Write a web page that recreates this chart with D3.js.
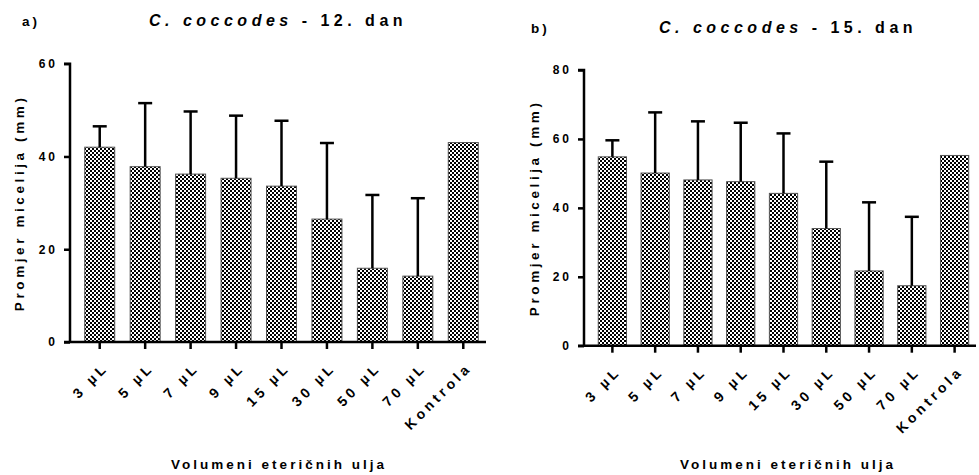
<!DOCTYPE html>
<html>
<head>
<meta charset="utf-8">
<script src="https://cdn.jsdelivr.net/npm/d3@7"></script>
<style>
  body { margin: 0; background: #fff; }
  svg { display: block; font-family: "Liberation Sans", Arial, sans-serif; font-weight: bold; }
</style>
</head>
<body>
<div id="chart"></div>
<script>
// categories and values
const categories = ["3 µL", "5 µL", "7 µL", "9 µL", "15 µL", "30 µL", "50 µL", "70 µL", "Kontrola"];

const day12Mean = [42.0, 37.8, 36.2, 35.3, 33.6, 26.5, 15.9, 14.2, 43.0];
const day12Err  = [4.5, 13.7, 13.5, 13.5, 14.1, 16.4, 15.8, 16.8, 0];
const day12Ticks = [0, 20, 40, 60];

const day15Mean = [54.8, 50.1, 48.1, 47.6, 44.2, 34.0, 21.7, 17.4, 55.2];
const day15Err  = [4.8, 17.6, 17.0, 17.1, 17.4, 19.4, 19.9, 20.0, 0];
const day15Ticks = [0, 20, 40, 60, 80];

const width = 979, height = 475;

const svg = d3.select("#chart").append("svg")
    .attr("width", width)
    .attr("height", height);

// checkerboard fill
const pat = svg.append("defs").append("pattern")
    .attr("id", "checker")
    .attr("patternUnits", "userSpaceOnUse")
    .attr("width", 4).attr("height", 4);
pat.append("rect").attr("width", 4).attr("height", 4).attr("fill", "#fff");
pat.append("rect").attr("width", 2).attr("height", 2).attr("fill", "#000");
pat.append("rect").attr("x", 2).attr("y", 2).attr("width", 2).attr("height", 2).attr("fill", "#000");

function drawPanel(opt) {
    const g = svg.append("g");

    const x = d3.scaleBand()
        .domain(categories)
        .range([opt.x0 + 7, opt.x1])
        .paddingInner(0.34)
        .paddingOuter(0.17);

    const y = d3.scaleLinear()
        .domain([0, opt.max])
        .range([opt.y0, opt.y1]);

    // bars
    g.selectAll("rect.bar")
        .data(opt.mean)
        .join("rect")
        .attr("class", "bar")
        .attr("x", (d, i) => x(categories[i]))
        .attr("width", x.bandwidth())
        .attr("y", d => y(d))
        .attr("height", d => y(0) - y(d))
        .attr("fill", "url(#checker)")
        .attr("stroke", "#555")
        .attr("stroke-width", 1);

    // error bars (upper only)
    const errs = opt.mean.map((m, i) => ({ i, m, e: opt.err[i] })).filter(d => d.e > 0);
    g.selectAll("line.err")
        .data(errs)
        .join("line")
        .attr("x1", d => x(categories[d.i]) + x.bandwidth() / 2)
        .attr("x2", d => x(categories[d.i]) + x.bandwidth() / 2)
        .attr("y1", d => y(d.m))
        .attr("y2", d => y(d.m + d.e))
        .attr("stroke", "#000")
        .attr("stroke-width", 2.5);
    g.selectAll("line.cap")
        .data(errs)
        .join("line")
        .attr("x1", d => x(categories[d.i]) + x.bandwidth() / 2 - 7)
        .attr("x2", d => x(categories[d.i]) + x.bandwidth() / 2 + 7)
        .attr("y1", d => y(d.m + d.e))
        .attr("y2", d => y(d.m + d.e))
        .attr("stroke", "#000")
        .attr("stroke-width", 2.5);

    // y axis
    const yAxis = g.append("g")
        .attr("transform", `translate(${opt.x0},0)`)
        .call(d3.axisLeft(y).tickValues(opt.ticks).tickSize(6).tickPadding(6));
    yAxis.select(".domain").attr("stroke-width", 2.5).attr("d", `M-6,${y(opt.max)}H0V${y(0)}`);
    yAxis.selectAll(".tick line").attr("stroke-width", 2.5);
    yAxis.selectAll("text")
        .style("font-size", "12px")
        .style("font-weight", "bold")
        .style("letter-spacing", "3px")
        .attr("fill", "#000");

    // x axis
    const xAxis = g.append("g")
        .attr("transform", `translate(0,${opt.y0})`)
        .call(d3.axisBottom(x).tickSize(7).tickPadding(6));
    xAxis.select(".domain").attr("stroke-width", 2.5).attr("d", `M${opt.x0 - 6},0H${opt.x1}`);
    xAxis.selectAll(".tick line").attr("stroke-width", 2.5);
    xAxis.selectAll("text")
        .style("font-size", "14px")
        .style("font-weight", "bold")
        .style("letter-spacing", "3.8px")
        .attr("fill", "#000")
        .attr("text-anchor", "end")
        .attr("x", 0)
        .attr("y", 0)
        .attr("dy", "0.35em")
        .attr("transform", "translate(6,23) rotate(-45)");

    // y label
    g.append("text")
        .attr("transform", `translate(${opt.ylabX},${(opt.y0 + opt.y1) / 2}) rotate(-90)`)
        .attr("text-anchor", "middle")
        .attr("dy", "0.35em")
        .style("font-size", "13.5px")
        .style("letter-spacing", "3.6px")
        .text("Promjer micelija (mm)");

    // x label
    g.append("text")
        .attr("x", opt.xlabX)
        .attr("y", 469)
        .attr("text-anchor", "middle")
        .style("font-size", "13.5px")
        .style("letter-spacing", "3px")
        .text("Volumeni eteričnih ulja");

    // panel letter
    g.append("text")
        .attr("x", opt.letterX)
        .attr("y", opt.titleY)
        .style("font-size", "13.5px")
        .style("letter-spacing", "3px")
        .text(opt.letter);

    // title
    const t = g.append("text")
        .attr("x", opt.titleX)
        .attr("y", opt.titleY)
        .attr("text-anchor", "middle")
        .style("font-size", "16px")
        .style("letter-spacing", "4.5px");
    t.append("tspan").style("font-style", "italic").text("C. coccodes");
    t.append("tspan").text(" - " + opt.day + ". dan");
}

drawPanel({
    x0: 70, x1: 486, y0: 342, y1: 63.7, max: 60,
    mean: day12Mean, err: day12Err, ticks: day12Ticks,
    ylabX: 19, xlabX: 279, letter: "a)", letterX: 22, titleX: 278, titleY: 26, day: 12
});

drawPanel({
    x0: 584, x1: 976, y0: 345.7, y1: 70, max: 80,
    mean: day15Mean, err: day15Err, ticks: day15Ticks,
    ylabX: 534, xlabX: 788, letter: "b)", letterX: 531, titleX: 788, titleY: 33, day: 15
});
</script>
</body>
</html>
